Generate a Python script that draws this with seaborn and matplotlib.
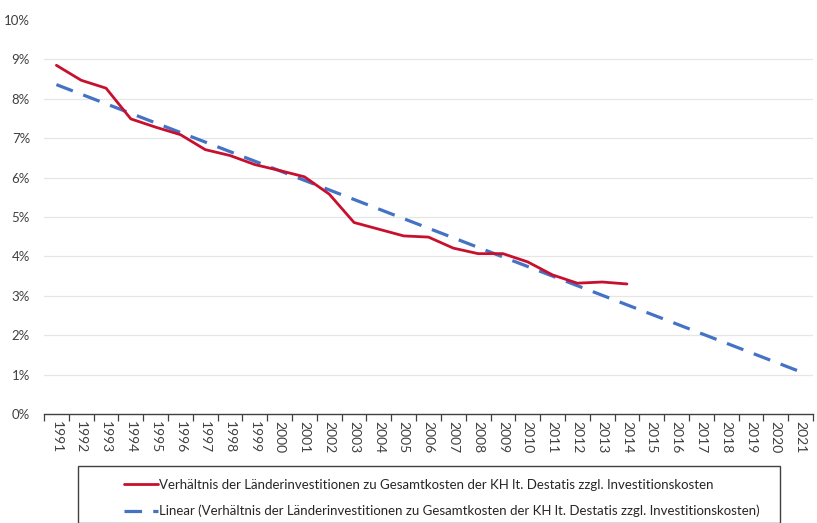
import numpy as np
import pandas as pd
import matplotlib
matplotlib.use("Agg")
import matplotlib.pyplot as plt
import seaborn as sns
from matplotlib.patches import Rectangle
from matplotlib.lines import Line2D
from matplotlib.ticker import FixedLocator, PercentFormatter

years = [str(y) for y in range(1991, 2022)]
actual_years = [str(y) for y in range(1991, 2015)]
actual_values = [8.85, 8.47, 8.27, 7.49, 7.28, 7.09, 6.71, 6.56, 6.33, 6.18,
                 6.02, 5.58, 4.86, 4.69, 4.52, 4.49, 4.21, 4.07, 4.07, 3.86,
                 3.53, 3.32, 3.35, 3.30]
trend_years = ["1991", "2021"]
trend_values = [8.36, 1.07]
y_ticks = [0, 1, 2, 3, 4, 5, 6, 7, 8, 9, 10]
label_actual = "Verhältnis der Länderinvestitionen zu Gesamtkosten der KH lt. Destatis zzgl. Investitionskosten"
label_trend = "Linear (Verhältnis der Länderinvestitionen zu Gesamtkosten der KH lt. Destatis zzgl. Investitionskosten)"

sns.set_theme(style="white")
plt.rcParams['font.family'] = ['Lato', 'DejaVu Sans']

pos = {y: i for i, y in enumerate(years)}
df_a = pd.DataFrame({"x": [pos[y] for y in actual_years], "v": actual_values})
df_t = pd.DataFrame({"x": [pos[y] for y in trend_years], "v": trend_values})

fig = plt.figure(figsize=(8.17, 5.23), dpi=100)
ax = fig.add_axes([44/817, 1 - 414/523, (813-44)/817, (414-20)/523])

red = "#C8102E"
blue = "#4472C4"
sns.lineplot(data=df_t, x="x", y="v", ax=ax, color=blue, lw=2.3, zorder=3)
ax.lines[-1].set_dashes([5.5, 3.5])
sns.lineplot(data=df_a, x="x", y="v", ax=ax, color=red, lw=2.0, zorder=4)

ax.set_xlim(-0.5, len(years) - 0.5)
ax.set_ylim(0, 10)
for t in y_ticks[1:-1]:
    ax.axhline(t, color="#E6E6E6", lw=0.9, zorder=0)

for s in ["top", "right", "left"]:
    ax.spines[s].set_visible(False)
ax.spines["bottom"].set_color("#404040")
ax.spines["bottom"].set_linewidth(1.0)

ax.yaxis.set_major_locator(FixedLocator(y_ticks))
ax.yaxis.set_major_formatter(PercentFormatter(decimals=0))
ax.tick_params(axis="y", length=0, pad=10, labelsize=9.5, labelcolor="#404040")

ax.xaxis.set_major_locator(FixedLocator(np.arange(-0.5, len(years), 1.0)))
ax.set_xticklabels([])
ax.xaxis.set_minor_locator(FixedLocator(np.arange(len(years))))
ax.set_xticklabels(years, minor=True, rotation=-90, fontsize=10, color="#404040")
ax.tick_params(axis="x", which="major", length=5, width=0.9, color="#404040", bottom=True)
ax.tick_params(axis="x", which="minor", length=0, pad=5)
ax.set_xlabel("")
ax.set_ylabel("")
if ax.get_legend():
    ax.get_legend().remove()

# legend box
fig.patches.append(Rectangle((78/817, 0), (780-78)/817, (523-466)/523,
                             transform=fig.transFigure, fill=False,
                             edgecolor="#404040", lw=1.0))
h1 = Line2D([], [], color=red, lw=2.0)
h2 = Line2D([], [], color=blue, lw=2.3, dashes=[5.5, 3.5])
fig.legend([h1, h2], [label_actual, label_trend], loc="upper left",
           bbox_to_anchor=(112/817, 1 - 467/523), frameon=False,
           fontsize=9.5, handlelength=2.6, handletextpad=0.1,
           labelspacing=1.05, labelcolor="#262626")

fig.savefig("out.png", dpi=100)
